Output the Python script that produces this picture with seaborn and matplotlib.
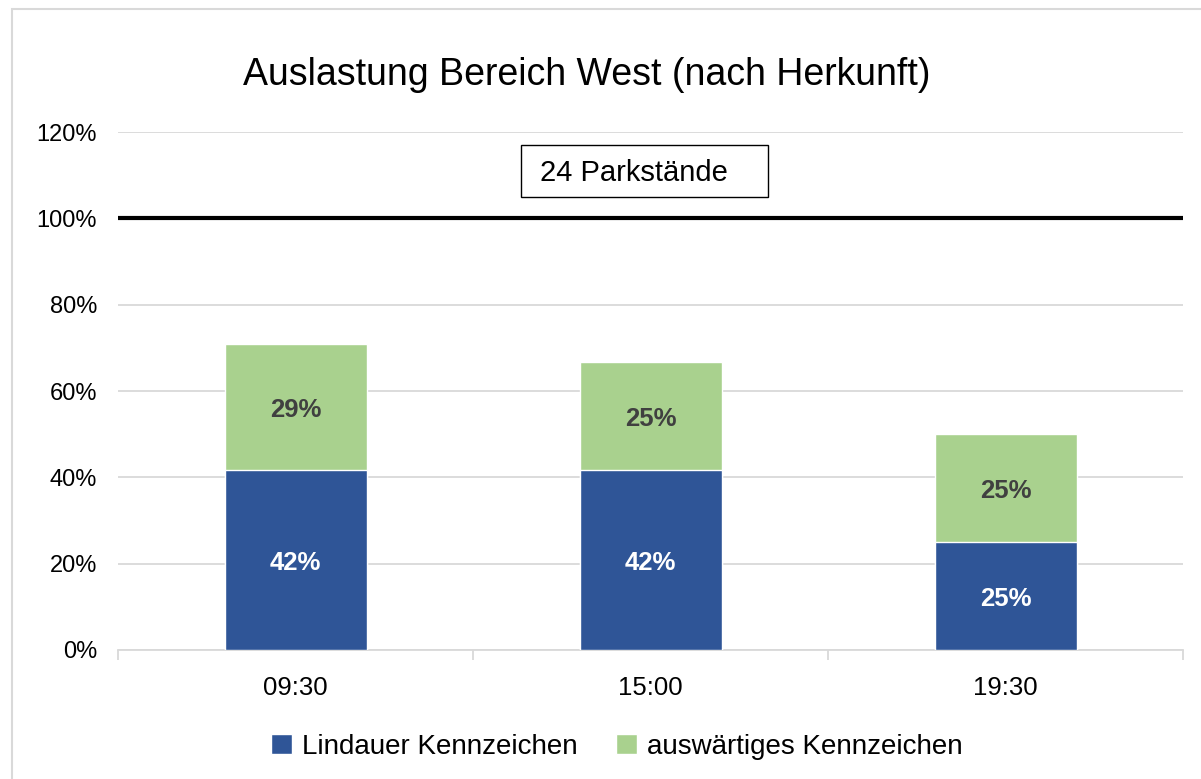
import numpy as np
import pandas as pd
import matplotlib
matplotlib.use("Agg")
import matplotlib.pyplot as plt
from matplotlib.patches import Rectangle
from matplotlib.ticker import FixedLocator, PercentFormatter
import seaborn as sns

# data: counted vehicles out of 24 parking spaces
times = ["09:30", "15:00", "19:30"]
capacity = 24
lindau = [10, 10, 6]
extern = [7, 6, 6]
series_names = ["Lindauer Kennzeichen", "auswärtiges Kennzeichen"]

BLUE = "#2F5597"
GREEN = "#A9D18E"

sns.set_theme(style="white")
plt.rcParams["font.family"] = ["Liberation Sans", "DejaVu Sans"]
plt.rcParams["text.color"] = "black"
plt.rcParams["xtick.color"] = "black"
plt.rcParams["ytick.color"] = "black"

df = pd.DataFrame({
    "zeit": times,
    "lindau": np.array(lindau) / capacity * 100,
    "extern": np.array(extern) / capacity * 100,
})
df["total"] = df["lindau"] + df["extern"]

fig = plt.figure(figsize=(12.01, 7.79), dpi=100)
ax = fig.add_axes([118 / 1201, 1 - 650 / 779, 1065 / 1201, 518 / 779])

# stacked bars: draw total first (green), then bottom part (blue) on top
sns.barplot(data=df, x="zeit", y="total", color=GREEN, width=0.4,
            saturation=1, ax=ax, zorder=3, label=series_names[1])
sns.barplot(data=df, x="zeit", y="lindau", color=BLUE, width=0.4,
            saturation=1, ax=ax, zorder=3, label=series_names[0])

for i, row in df.iterrows():
    ax.text(i, row["lindau"] / 2 - 0.6, f"{row['lindau']:.0f}%", ha="center",
            va="center", color="white", fontsize=18.5, fontweight="bold", zorder=5)
    ax.text(i, row["lindau"] + row["extern"] / 2 - 0.6, f"{row['extern']:.0f}%",
            ha="center", va="center", color="#404040", fontsize=18.5,
            fontweight="bold", zorder=5)

ax.set_xlim(-0.5, 2.5)
ax.set_ylim(0, 120)
ax.set_yticks(np.arange(0, 121, 20))
ax.yaxis.set_major_formatter(PercentFormatter(decimals=0))
ax.grid(axis="y", color="#d9d9d9", linewidth=1.3, zorder=0)
ax.set_axisbelow(True)
ax.set_xlabel("")
ax.set_ylabel("")
for side in ["top", "right", "left"]:
    ax.spines[side].set_visible(False)
ax.spines["bottom"].set_color("#d9d9d9")
ax.spines["bottom"].set_linewidth(1.3)

ax.tick_params(axis="y", labelsize=17, length=0, pad=15, colors="black")
ax.tick_params(axis="x", which="major", labelsize=18.5, length=0, pad=19,
               colors="black")
ax.xaxis.set_minor_locator(FixedLocator([-0.5, 0.5, 1.5, 2.5]))
ax.tick_params(axis="x", which="minor", length=7, color="#d9d9d9", width=1.3,
               bottom=True)

# capacity line
ax.axhline(100, color="black", linewidth=3, zorder=4)

# capacity note box
ax.add_patch(Rectangle((0.3784, 0.8745), 0.2319, 0.1004, transform=ax.transAxes,
                       facecolor="white", edgecolor="black", linewidth=1,
                       zorder=5, clip_on=False))
ax.text(0.3962, 0.921, "24 Parkstände", transform=ax.transAxes, ha="left",
        va="center", fontsize=21, zorder=6)

fig.text(587 / 1201, 1 - 75 / 779, "Auslastung Bereich West (nach Herkunft)",
         ha="center", va="center", fontsize=27)

handles, labels = ax.get_legend_handles_labels()
order = [labels.index(n) for n in series_names]
if ax.get_legend() is not None:
    ax.get_legend().remove()
fig.legend([handles[k] for k in order], [labels[k] for k in order],
           loc="center", bbox_to_anchor=(617 / 1201, 1 - 747 / 779), ncol=2,
           frameon=False, fontsize=20, handlelength=0.75, handleheight=0.75,
           handletextpad=0.35, columnspacing=1.4)

# outer chart frame (left and top edges visible)
fig.add_artist(Rectangle((12 / 1201, -0.1), 1.2, 1 - 9 / 779 + 0.1,
                         transform=fig.transFigure, facecolor="none",
                         edgecolor="#d9d9d9", linewidth=1.5))

fig.savefig("out.png", dpi=100)
